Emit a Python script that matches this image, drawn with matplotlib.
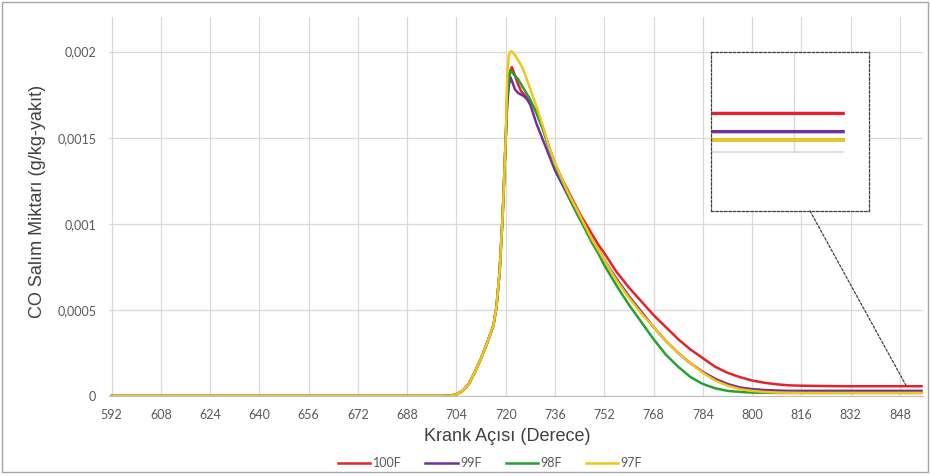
import numpy as np
import matplotlib
matplotlib.use("Agg")
import matplotlib.pyplot as plt
from matplotlib.patches import Rectangle, ConnectionPatch
import matplotlib.ticker as ticker

# Crank angle (deg) sample points
crank = [592, 700, 702, 704, 706, 708, 710, 712, 714, 716, 717, 718, 719, 720,
         720.5, 721, 721.5, 722, 723, 724, 725, 726, 727, 728, 730, 732, 734,
         736, 738, 740, 742, 744, 746, 748, 750, 752, 756, 760, 764, 768, 772,
         776, 780, 784, 788, 792, 796, 800, 804, 808, 812, 816, 824, 832, 840,
         848, 855]

# shared rise part (592 .. 720)
rise = [0, 0, 0.000002, 0.00001, 0.00003, 0.00007, 0.00014, 0.00022, 0.00031,
        0.00041, 0.00052, 0.00072, 0.00105, 0.0015]

co_100f = rise + [0.00175, 0.00185, 0.00189, 0.00191, 0.00186, 0.00181, 0.00177,
                  0.00175, 0.00173, 0.00171, 0.00165, 0.00156, 0.00145, 0.00135,
                  0.00127, 0.0012, 0.00113, 0.00106, 0.001, 0.00094, 0.00088,
                  0.00083, 0.00072, 0.00063, 0.00055, 0.00047, 0.0004, 0.00033,
                  0.00027, 0.00022, 0.00017, 0.000135, 0.00011, 0.00009,
                  0.000077, 0.000068, 0.000062, 0.00006, 0.000058, 0.000057,
                  0.000057, 0.000057, 0.000057]
co_99f = rise + [0.0017, 0.0018, 0.00185, 0.00183, 0.00178, 0.00176, 0.00175,
                 0.00174, 0.00172, 0.00169, 0.00158, 0.00149, 0.0014, 0.00131,
                 0.00124, 0.00117, 0.0011, 0.00103, 0.00097, 0.0009, 0.00085,
                 0.00079, 0.00068, 0.00058, 0.00049, 0.0004, 0.00032, 0.00025,
                 0.00019, 0.00014, 0.0001, 0.00007, 0.00005, 0.00004, 0.000035,
                 0.000032, 0.00003, 0.00003, 0.00003, 0.00003, 0.00003,
                 0.00003, 0.00003]
co_98f = rise + [0.00175, 0.00185, 0.00189, 0.00188, 0.00186, 0.00184, 0.00181,
                 0.00178, 0.00175, 0.00172, 0.00164, 0.00155, 0.00144, 0.00134,
                 0.00126, 0.00118, 0.0011, 0.00103, 0.00096, 0.00089, 0.00083,
                 0.00076, 0.00064, 0.00053, 0.00043, 0.00033, 0.00024, 0.00017,
                 0.00011, 0.00007, 0.000045, 0.00003, 0.000024, 0.00002,
                 0.000019, 0.000018, 0.000018, 0.000018, 0.000018, 0.000018,
                 0.000018, 0.000018, 0.000018]
co_97f = rise + [0.00188, 0.00198, 0.002, 0.002, 0.00198, 0.00195, 0.00192,
                 0.00188, 0.00183, 0.00178, 0.00168, 0.00157, 0.00145, 0.00135,
                 0.00127, 0.00119, 0.00112, 0.00105, 0.00098, 0.00091, 0.00085,
                 0.00079, 0.00067, 0.00057, 0.00048, 0.0004, 0.00032, 0.00025,
                 0.00019, 0.000135, 0.00009, 0.00006, 0.00004, 0.00003,
                 0.000024, 0.00002, 0.000019, 0.000018, 0.000018, 0.000018,
                 0.000018, 0.000018, 0.000018]

labels = ["100F", "99F", "98F", "97F"]
colors = ["#E3232B", "#7030A0", "#22A32F", "#F5C414"]
series = [co_100f, co_99f, co_98f, co_97f]

x_ticks = list(range(592, 849, 16))
y_ticks = [0, 0.0005, 0.001, 0.0015, 0.002]
y_tick_labels = ["0", "0,0005", "0,001", "0,0015", "0,002"]

fig = plt.figure(figsize=(9.3, 4.76), dpi=100)
ax = fig.add_axes([0.117, 0.168, 0.8755, 0.796])

for vals, c, lab in zip(series, colors, labels):
    ax.plot(crank, vals, color=c, lw=1.8, label=lab, solid_joinstyle="round")

ax.set_xlim(591.1, 855.5)
ax.set_ylim(0, 0.0022)
ax.set_xticks(x_ticks)
ax.set_yticks(y_ticks)
ax.set_yticklabels(y_tick_labels)
ax.grid(True, color="#D9D9D9", lw=0.9)
ax.set_axisbelow(True)
for s in ["top", "right", "left"]:
    ax.spines[s].set_visible(False)
ax.spines["bottom"].set_color("#BFBFBF")
ax.tick_params(length=0, labelsize=9, labelcolor="#595959", pad=9)
for t in ax.get_xticklabels() + ax.get_yticklabels():
    t.set_family("Lato")

ax.set_xlabel("Krank Açısı (Derece)", fontsize=13, color="#404040",
              family="Liberation Sans")
ax.set_ylabel("CO Salım Miktarı (g/kg-yakıt)", fontsize=13, color="#404040",
              family="Liberation Sans")
ax.xaxis.set_label_coords(0.489, -0.085)
ax.yaxis.set_label_coords(-0.077, 0.514)

leg = fig.legend(loc="center", bbox_to_anchor=(0.527, 0.027), ncol=4,
                 frameon=False, handlelength=2.6, columnspacing=1.9,
                 handletextpad=0.2, prop={"family": "Lato", "size": 9})
for t in leg.get_texts():
    t.set_color("#595959")

# zoom inset of the tail
axin = fig.add_axes([0.7645, 0.5567, 0.1699, 0.334])
for vals, c in zip(series, colors):
    axin.plot(crank, vals, color=c, lw=2.4)
axin.plot([836, 855], [0, 0], color="#D9D9D9", lw=1.2, zorder=0)
axin.plot([848, 848], [0, 0.00016], color="#D9D9D9", lw=1.0, zorder=0)
axin.set_xlim(836.1, 858.7)
axin.set_ylim(-0.0000876, 0.000148)
axin.set_xticks([])
axin.set_yticks([])
for s in axin.spines.values():
    s.set_linestyle((0, (2, 1.5)))
    s.set_color("#404040")
    s.set_linewidth(0.9)

con = ConnectionPatch(xyA=(0.627, 0), coordsA=axin.transAxes,
                      xyB=(849.9, 0.000064), coordsB=ax.transData,
                      linestyle=(0, (2, 1.5)), color="#404040", lw=0.9)
fig.add_artist(con)

# outer chart border
fig.add_artist(Rectangle((0.002, 0.008), 0.996, 0.988, transform=fig.transFigure,
                         fill=False, edgecolor="#A6A6A6", lw=1.0))

fig.savefig("out.png", dpi=100)
